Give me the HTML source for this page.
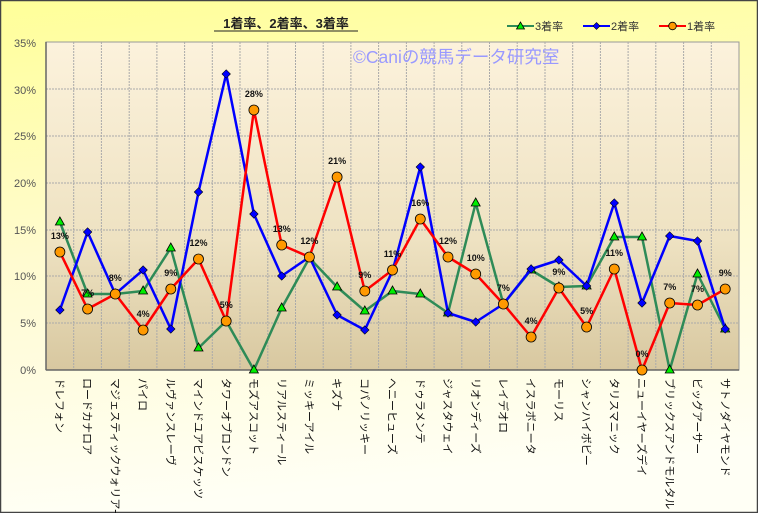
<!DOCTYPE html>
<html><head><meta charset="utf-8"><style>
html,body{margin:0;padding:0;width:758px;height:513px;overflow:hidden}
svg{display:block}
text{font-family:"Liberation Sans","Noto Sans CJK JP",sans-serif}
</style></head><body>
<svg width="758" height="513" viewBox="0 0 758 513" xmlns="http://www.w3.org/2000/svg">
<defs>
<linearGradient id="bg" x1="0" y1="0" x2="0.15" y2="1"><stop offset="0" stop-color="#ffff99"/><stop offset="0.5" stop-color="#fffbd0"/><stop offset="1" stop-color="#fffff5"/></linearGradient>
<linearGradient id="pa" x1="0" y1="0" x2="0" y2="1"><stop offset="0" stop-color="#fcf2dc"/><stop offset="0.6" stop-color="#eee2c2"/><stop offset="1" stop-color="#d8c8a0"/></linearGradient>
</defs>
<rect x="0.5" y="0.5" width="757" height="512" fill="url(#bg)" stroke="#444" stroke-width="1.5"/>
<rect x="46" y="42" width="693" height="328" fill="url(#pa)" stroke="#999" stroke-width="1"/>
<g stroke="#aaa" stroke-width="1" stroke-dasharray="2,1">
<line x1="46" y1="89" x2="739" y2="89"/><line x1="46" y1="136" x2="739" y2="136"/><line x1="46" y1="183" x2="739" y2="183"/><line x1="46" y1="230" x2="739" y2="230"/><line x1="46" y1="276" x2="739" y2="276"/><line x1="46" y1="323" x2="739" y2="323"/>
<line x1="73.7" y1="42" x2="73.7" y2="370"/><line x1="101.4" y1="42" x2="101.4" y2="370"/><line x1="129.2" y1="42" x2="129.2" y2="370"/><line x1="156.9" y1="42" x2="156.9" y2="370"/><line x1="184.6" y1="42" x2="184.6" y2="370"/><line x1="212.3" y1="42" x2="212.3" y2="370"/><line x1="240" y1="42" x2="240" y2="370"/><line x1="267.8" y1="42" x2="267.8" y2="370"/><line x1="295.5" y1="42" x2="295.5" y2="370"/><line x1="323.2" y1="42" x2="323.2" y2="370"/><line x1="350.9" y1="42" x2="350.9" y2="370"/><line x1="378.6" y1="42" x2="378.6" y2="370"/><line x1="406.4" y1="42" x2="406.4" y2="370"/><line x1="434.1" y1="42" x2="434.1" y2="370"/><line x1="461.8" y1="42" x2="461.8" y2="370"/><line x1="489.5" y1="42" x2="489.5" y2="370"/><line x1="517.2" y1="42" x2="517.2" y2="370"/><line x1="545" y1="42" x2="545" y2="370"/><line x1="572.7" y1="42" x2="572.7" y2="370"/><line x1="600.4" y1="42" x2="600.4" y2="370"/><line x1="628.1" y1="42" x2="628.1" y2="370"/><line x1="655.8" y1="42" x2="655.8" y2="370"/><line x1="683.6" y1="42" x2="683.6" y2="370"/><line x1="711.3" y1="42" x2="711.3" y2="370"/>
</g>
<line x1="46" y1="42" x2="46" y2="370" stroke="#666" stroke-width="1.5"/>
<line x1="46" y1="370" x2="739" y2="370" stroke="#666" stroke-width="1.5"/>
<g font-size="11" fill="#555" text-anchor="end">
<text x="36" y="47">35%</text><text x="36" y="94">30%</text><text x="36" y="140">25%</text><text x="36" y="187">20%</text><text x="36" y="234">15%</text><text x="36" y="280">10%</text><text x="36" y="327">5%</text><text x="36" y="374">0%</text>
</g>
<text x="286" y="28" font-size="13" font-weight="bold" text-anchor="middle" fill="#222">1着率、2着率、3着率</text>
<line x1="214" y1="31" x2="358" y2="31" stroke="#222" stroke-width="1"/>
<text x="353" y="63" font-size="17.5" fill="#9999ff">©Caniの競馬データ研究室</text>
<g font-size="11" fill="#333">
<line x1="507" y1="26" x2="534" y2="26" stroke="#2e8b57" stroke-width="2"/><polygon points="520.5,22 516.5,29 524.5,29" fill="#00ee00" stroke="#000" stroke-width="0.8"/><text x="535" y="30">3着率</text>
<line x1="583" y1="26" x2="610" y2="26" stroke="#0000ff" stroke-width="2"/><polygon points="596.5,22.5 600,26 596.5,29.5 593,26" fill="#0000ff" stroke="#000" stroke-width="0.6"/><text x="611" y="30">2着率</text>
<line x1="659" y1="26" x2="686" y2="26" stroke="#ff0000" stroke-width="2"/><circle cx="672.5" cy="26" r="3.8" fill="#ff9900" stroke="#000" stroke-width="0.8"/><text x="687" y="30">1着率</text>
</g>
<polyline fill="none" stroke="#2e8b57" stroke-width="2.5" stroke-linejoin="round" points="59.9,222 87.6,294 115.3,294 143.1,291 170.8,248 198.5,348 226.2,321 253.9,370 281.7,308 309.4,258 337.1,287 364.8,311 392.5,291 420.3,294 448,313 475.7,203 503.4,304 531.1,270 558.9,287 586.6,286 614.3,237 642,237 669.7,370 697.5,274 725.2,329"/>
<g fill="#00ee00" stroke="#000" stroke-width="0.8">
<polygon points="59.9,217 55.4,225 64.4,225"/><polygon points="87.6,289 83.1,297 92.1,297"/><polygon points="115.3,289 110.8,297 119.8,297"/><polygon points="143.1,286 138.6,294 147.6,294"/><polygon points="170.8,243 166.3,251 175.3,251"/><polygon points="198.5,343 194,351 203,351"/><polygon points="226.2,316 221.7,324 230.7,324"/><polygon points="253.9,365 249.4,373 258.4,373"/><polygon points="281.7,303 277.2,311 286.2,311"/><polygon points="309.4,253 304.9,261 313.9,261"/><polygon points="337.1,282 332.6,290 341.6,290"/><polygon points="364.8,306 360.3,314 369.3,314"/><polygon points="392.5,286 388,294 397,294"/><polygon points="420.3,289 415.8,297 424.8,297"/><polygon points="448,308 443.5,316 452.5,316"/><polygon points="475.7,198 471.2,206 480.2,206"/><polygon points="503.4,299 498.9,307 507.9,307"/><polygon points="531.1,265 526.6,273 535.6,273"/><polygon points="558.9,282 554.4,290 563.4,290"/><polygon points="586.6,281 582.1,289 591.1,289"/><polygon points="614.3,232 609.8,240 618.8,240"/><polygon points="642,232 637.5,240 646.5,240"/><polygon points="669.7,365 665.2,373 674.2,373"/><polygon points="697.5,269 693,277 702,277"/><polygon points="725.2,324 720.7,332 729.7,332"/>
</g>
<polyline fill="none" stroke="#0000ff" stroke-width="2.5" stroke-linejoin="round" points="59.9,310 87.6,232 115.3,294 143.1,270 170.8,329 198.5,192 226.2,74 253.9,214 281.7,276 309.4,257 337.1,315 364.8,330 392.5,271 420.3,167 448,313 475.7,322 503.4,304 531.1,269 558.9,260 586.6,286 614.3,203 642,303 669.7,236 697.5,241 725.2,329"/>
<g fill="#0000ff" stroke="#000" stroke-width="0.6">
<rect x="-3" y="-3" width="6" height="6" transform="translate(59.9,310) rotate(45)"/><rect x="-3" y="-3" width="6" height="6" transform="translate(87.6,232) rotate(45)"/><rect x="-3" y="-3" width="6" height="6" transform="translate(115.3,294) rotate(45)"/><rect x="-3" y="-3" width="6" height="6" transform="translate(143.1,270) rotate(45)"/><rect x="-3" y="-3" width="6" height="6" transform="translate(170.8,329) rotate(45)"/><rect x="-3" y="-3" width="6" height="6" transform="translate(198.5,192) rotate(45)"/><rect x="-3" y="-3" width="6" height="6" transform="translate(226.2,74) rotate(45)"/><rect x="-3" y="-3" width="6" height="6" transform="translate(253.9,214) rotate(45)"/><rect x="-3" y="-3" width="6" height="6" transform="translate(281.7,276) rotate(45)"/><rect x="-3" y="-3" width="6" height="6" transform="translate(309.4,257) rotate(45)"/><rect x="-3" y="-3" width="6" height="6" transform="translate(337.1,315) rotate(45)"/><rect x="-3" y="-3" width="6" height="6" transform="translate(364.8,330) rotate(45)"/><rect x="-3" y="-3" width="6" height="6" transform="translate(392.5,271) rotate(45)"/><rect x="-3" y="-3" width="6" height="6" transform="translate(420.3,167) rotate(45)"/><rect x="-3" y="-3" width="6" height="6" transform="translate(448,313) rotate(45)"/><rect x="-3" y="-3" width="6" height="6" transform="translate(475.7,322) rotate(45)"/><rect x="-3" y="-3" width="6" height="6" transform="translate(503.4,304) rotate(45)"/><rect x="-3" y="-3" width="6" height="6" transform="translate(531.1,269) rotate(45)"/><rect x="-3" y="-3" width="6" height="6" transform="translate(558.9,260) rotate(45)"/><rect x="-3" y="-3" width="6" height="6" transform="translate(586.6,286) rotate(45)"/><rect x="-3" y="-3" width="6" height="6" transform="translate(614.3,203) rotate(45)"/><rect x="-3" y="-3" width="6" height="6" transform="translate(642,303) rotate(45)"/><rect x="-3" y="-3" width="6" height="6" transform="translate(669.7,236) rotate(45)"/><rect x="-3" y="-3" width="6" height="6" transform="translate(697.5,241) rotate(45)"/><rect x="-3" y="-3" width="6" height="6" transform="translate(725.2,329) rotate(45)"/>
</g>
<polyline fill="none" stroke="#ff0000" stroke-width="2.5" stroke-linejoin="round" points="59.9,252 87.6,309 115.3,294 143.1,330 170.8,289 198.5,259 226.2,321 253.9,110 281.7,245 309.4,257 337.1,177 364.8,291 392.5,270 420.3,219 448,257 475.7,274 503.4,304 531.1,337 558.9,288 586.6,327 614.3,269 642,370 669.7,303 697.5,305 725.2,289"/>
<g fill="#ff9900" stroke="#000" stroke-width="0.8">
<circle cx="59.9" cy="252" r="5"/><circle cx="87.6" cy="309" r="5"/><circle cx="115.3" cy="294" r="5"/><circle cx="143.1" cy="330" r="5"/><circle cx="170.8" cy="289" r="5"/><circle cx="198.5" cy="259" r="5"/><circle cx="226.2" cy="321" r="5"/><circle cx="253.9" cy="110" r="5"/><circle cx="281.7" cy="245" r="5"/><circle cx="309.4" cy="257" r="5"/><circle cx="337.1" cy="177" r="5"/><circle cx="364.8" cy="291" r="5"/><circle cx="392.5" cy="270" r="5"/><circle cx="420.3" cy="219" r="5"/><circle cx="448" cy="257" r="5"/><circle cx="475.7" cy="274" r="5"/><circle cx="503.4" cy="304" r="5"/><circle cx="531.1" cy="337" r="5"/><circle cx="558.9" cy="288" r="5"/><circle cx="586.6" cy="327" r="5"/><circle cx="614.3" cy="269" r="5"/><circle cx="642" cy="370" r="5"/><circle cx="669.7" cy="303" r="5"/><circle cx="697.5" cy="305" r="5"/><circle cx="725.2" cy="289" r="5"/>
</g>
<g font-size="9" font-weight="bold" fill="#111" text-anchor="middle">
<text x="59.9" y="239">13%</text><text x="87.6" y="296">7%</text><text x="115.3" y="281">8%</text><text x="143.1" y="317">4%</text><text x="170.8" y="276">9%</text><text x="198.5" y="246">12%</text><text x="226.2" y="308">5%</text><text x="253.9" y="97">28%</text><text x="281.7" y="232">13%</text><text x="309.4" y="244">12%</text><text x="337.1" y="164">21%</text><text x="364.8" y="278">9%</text><text x="392.5" y="257">11%</text><text x="420.3" y="206">16%</text><text x="448" y="244">12%</text><text x="475.7" y="261">10%</text><text x="503.4" y="291">7%</text><text x="531.1" y="324">4%</text><text x="558.9" y="275">9%</text><text x="586.6" y="314">5%</text><text x="614.3" y="256">11%</text><text x="642" y="357">0%</text><text x="669.7" y="290">7%</text><text x="697.5" y="292">7%</text><text x="725.2" y="276">9%</text>
</g>
<g font-size="11" fill="#111">
<text transform="translate(56,378) rotate(90)">ドレフォン</text>
<text transform="translate(83.7,378) rotate(90)">ロードカナロア</text>
<text transform="translate(111.4,378) rotate(90)">マジェスティックウォリアー</text>
<text transform="translate(139.2,378) rotate(90)">パイロ</text>
<text transform="translate(166.9,378) rotate(90)">ルヴァンスレーヴ</text>
<text transform="translate(194.6,378) rotate(90)">マインドユアビスケッツ</text>
<text transform="translate(222.3,378) rotate(90)">タワーオブロンドン</text>
<text transform="translate(250,378) rotate(90)">モズアスコット</text>
<text transform="translate(277.8,378) rotate(90)">リアルスティール</text>
<text transform="translate(305.5,378) rotate(90)">ミッキーアイル</text>
<text transform="translate(333.2,378) rotate(90)">キズナ</text>
<text transform="translate(360.9,378) rotate(90)">コパノリッキー</text>
<text transform="translate(388.6,378) rotate(90)">ヘニーヒューズ</text>
<text transform="translate(416.4,378) rotate(90)">ドゥラメンテ</text>
<text transform="translate(444.1,378) rotate(90)">ジャスタウェイ</text>
<text transform="translate(471.8,378) rotate(90)">リオンディーズ</text>
<text transform="translate(499.5,378) rotate(90)">レイデオロ</text>
<text transform="translate(527.2,378) rotate(90)">イスラボニータ</text>
<text transform="translate(555,378) rotate(90)">モーリス</text>
<text transform="translate(582.7,378) rotate(90)">シャンハイボビー</text>
<text transform="translate(610.4,378) rotate(90)">タリスマニック</text>
<text transform="translate(638.1,378) rotate(90)">ニューイヤーズデイ</text>
<text transform="translate(665.8,378) rotate(90)">ブリックスアンドモルタル</text>
<text transform="translate(693.6,378) rotate(90)">ビッグアーサー</text>
<text transform="translate(721.3,378) rotate(90)">サトノダイヤモンド</text>
</g>
</svg>
</body></html>
